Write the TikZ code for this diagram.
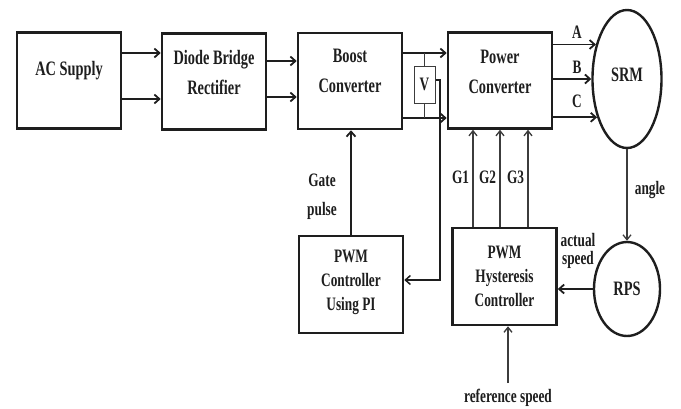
\documentclass[tikz,border=0pt]{standalone}
\usepackage{fontspec}
\setmainfont{Liberation Serif}[FakeStretch=0.7]
\usepackage{tikz}
\usetikzlibrary{shapes.geometric, arrows.meta, calc}
\definecolor{ink}{RGB}{30, 30, 30}
\definecolor{wire}{RGB}{60, 60, 60}

\begin{document}
\begin{tikzpicture}[x=1pt, y=-1pt, thick,
    block/.style={draw=ink, line width=2.6pt, rectangle, minimum width=104pt, minimum height=96pt, inner sep=0pt},
    txt/.style={text=ink, align=center, font=\bfseries\fontsize{20.5}{30}\selectfont},
    txtsmall/.style={text=ink, align=center, font=\bfseries\fontsize{19}{24}\selectfont},
    tag/.style={text=ink, align=center, font=\bfseries\fontsize{19}{18}\selectfont},
    conn/.style={draw=ink, line width=1.8pt, -{Straight Barb[length=5pt, width=9pt]}},
    gline/.style={draw=wire, line width=1.3pt, -{Straight Barb[length=5pt, width=8pt]}},
    round/.style={draw=ink, line width=2.4pt, ellipse, inner sep=0pt}]
  \useasboundingbox (0, 0) rectangle (681, 408);

  % Top row
  \node[block, label={[txt, yshift=10pt]center:AC Supply}] (ac) at (69, 80.5) {};
  \node[block, label={[txt, yshift=9pt]center:Diode Bridge\\Rectifier}] (dbr) at (214, 81.5) {};
  \node[block, label={[txt, yshift=10pt]center:Boost\\Converter}] (bst) at (350, 81) {};
  \node[block, label={[txt, yshift=9pt]center:Power\\Converter}] (pc) at (500, 80.5) {};
  \node[round, minimum width=69pt, minimum height=138pt, label={[txt, yshift=4pt]center:SRM}] (srm) at (627, 79) {};

  % Bottom row
  \node[block, minimum height=97pt, label={[txtsmall, yshift=2pt]center:PWM\\Controller\\Using PI}] (pi) at (351, 284.5) {};
  \node[block, minimum height=97pt, label={[txtsmall]center:PWM\\Hysteresis\\Controller}] (hys) at (504.5, 276.5) {};
  \node[round, minimum width=66pt, minimum height=94pt, label={[txt]center:RPS}] (rps) at (627, 289) {};

  % Supply path
  \draw[conn] (ac.east |- 0, 53) -- (dbr.west |- 0, 53);
  \draw[conn] (ac.east |- 0, 99) -- (dbr.west |- 0, 99);
  \draw[conn] (dbr.east |- 0, 61) -- (bst.west |- 0, 61);
  \draw[conn] (dbr.east |- 0, 97) -- (bst.west |- 0, 97);
  \draw[conn] (bst.east |- 0, 53) -- (pc.west |- 0, 53);
  \draw[conn] (bst.east |- 0, 118) -- (pc.west |- 0, 118);

  % Voltage sensor
  \node[draw=wire, line width=1pt, minimum width=21pt, minimum height=37pt, inner sep=0pt, txtsmall] (v) at (424.5, 84.5) {V};
  \draw[wire, line width=1pt] (v.north) -- (v.north |- 0, 53);
  \draw[wire, line width=1pt] (v.south) -- (v.south |- 0, 118);
  \coordinate (vtap) at (440, 80);
  \draw[conn, line width=1.5pt] (v.east |- vtap) -- (vtap) -- (vtap |- 0, 280) -- (pi.east |- 0, 280);

  % Phases
  \draw[conn] (pc.east |- srm.132) -- (srm.132);
  \draw[conn] (pc.east |- srm.west) -- (srm.west);
  \draw[conn] (pc.east |- srm.232) -- (srm.232);
  \node[tag] (pa) at (577, 32) {A};
  \node[tag] (pb) at (577, 67) {B};
  \node[tag] (pcc) at (577, 101) {C};

  % Gate signals
  \draw[conn] (pi.north) -- (pi.north |- bst.south);
  \node[tag, font=\bfseries\fontsize{19}{29}\selectfont] (gp) at (322, 197) {Gate\\pulse};
  \foreach \x/\g in {473/1, 500/2, 528/3} {
    \draw[gline] (hys.north -| \x, 0) -- (pc.south -| \x, 0);
    \node[tag] (g\g) at (\x - 12.5, 177) {G\g};
  }

  % Speed loop
  \draw[gline] (srm.south) -- (rps.north);
  \node[tag] (ang) at (650, 190) {angle};
  \draw[conn] (rps.west) -- (hys.east |- rps.west);
  \node[tag] (act) at (578, 251) {actual\\speed};
  \coordinate (ref) at (508, 383);
  \draw[gline] (ref) -- (hys.south -| ref);
  \node[tag] (refl) at (508, 398) {reference speed};
\end{tikzpicture}
\end{document}
